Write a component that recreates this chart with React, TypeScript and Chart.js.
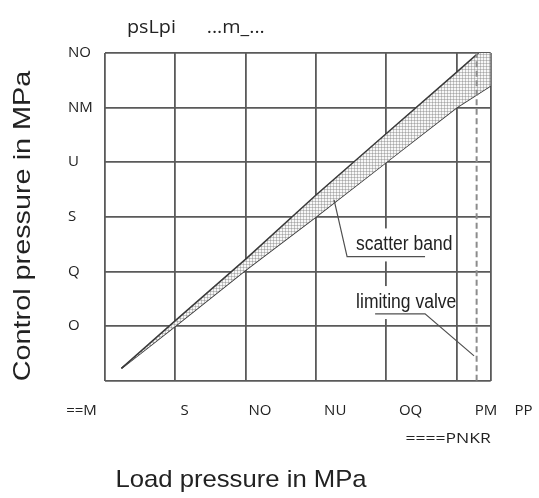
import React, { useEffect, useRef } from 'react';
import { Chart, registerables } from 'chart.js';

Chart.register(...registerables);

// ---- data ----
const yTickValues = [2, 4, 6, 8, 10, 12];
const yTickLabels = ['O', 'Q', 'S', 'U', 'NM', 'NO'];
const xGridValues = [0, 6, 12, 18, 24, 30, 32.9];
const xTickValues = [-2.2, 6, 12, 18, 24, 30, 33];
const xTickLabels = ['==M', 'S', 'NO', 'NU', 'OQ', 'PM', 'PP'];

const upperX = [1.4, 6, 12, 18, 24, 30, 32.9];
const upperY = [0.45, 2.2, 4.45, 6.8, 9.05, 11.3, 12.4];
const lowerX = [1.4, 6, 12, 18, 24, 30, 32.9];
const lowerY = [0.45, 2, 4.05, 6, 8, 10, 10.8];
const limitValveX = 31.7;

const scatterLeaderX = [19.54, 20.65, 27.3];
const scatterLeaderY = [6.62, 4.54, 4.54];
const limitLeaderX = [23.04, 27.3, 31.48];
const limitLeaderY = [2.45, 2.45, 0.91];

const chartTitle = 'psLpi      ...m_...';
const xTitle = 'Load pressure in MPa';
const yTitle = 'Control pressure in MPa';
const annotationLabels = ['scatter band', 'limiting valve'];
const annotationX = [21.42, 21.42];
const annotationY = [4.77, 2.66];
const limitLabel = '====PNKR';
const limitLabelX = 32.9;
const limitLabelY = -2.29;

const TEXT = '#222222';
const GRID = '#5a5a5a';
const LINE = '#3a3a3a';
const ANN_FONT = '20px "Liberation Sans", Arial, sans-serif';
const ANN_SX = 0.875;

function drawStretched(
  ctx: CanvasRenderingContext2D,
  text: string,
  x: number,
  y: number,
  font: string,
  align: CanvasTextAlign,
  sx: number,
  rotate = 0
) {
  ctx.save();
  ctx.font = font;
  ctx.fillStyle = TEXT;
  ctx.textBaseline = 'alphabetic';
  ctx.textAlign = align;
  ctx.translate(x, y);
  if (rotate) ctx.rotate(rotate);
  ctx.scale(sx, 1);
  ctx.fillText(text, 0, 0);
  ctx.restore();
}

const decorPlugin = {
  id: 'decor',
  beforeDatasetsDraw(chart: any) {
    const ctx: CanvasRenderingContext2D = chart.ctx;
    const xs = chart.scales.x;
    const ys = chart.scales.y;
    ctx.save();
    ctx.font = ANN_FONT;
    ctx.fillStyle = '#ffffff';
    annotationLabels.forEach((t, i) => {
      const px = xs.getPixelForValue(annotationX[i]);
      const py = ys.getPixelForValue(annotationY[i]);
      const w = ctx.measureText(t).width * ANN_SX;
      ctx.fillRect(px - 4, py - 22, w + 2, 33);
    });
    ctx.restore();
  },
  afterDraw(chart: any) {
    const ctx: CanvasRenderingContext2D = chart.ctx;
    const xs = chart.scales.x;
    const ys = chart.scales.y;
    const area = chart.chartArea;
    drawStretched(ctx, chartTitle, area.left + 22, area.top - 20, '19px "Open Sans", sans-serif', 'left', 1.04);
    drawStretched(ctx, xTitle, 241, 487, '24px "Liberation Sans", Arial, sans-serif', 'center', 1.07);
    drawStretched(ctx, yTitle, 29.5, 226, '24px "Liberation Sans", Arial, sans-serif', 'center', 1.2, -Math.PI / 2);
    annotationLabels.forEach((t, i) => {
      drawStretched(ctx, t, xs.getPixelForValue(annotationX[i]), ys.getPixelForValue(annotationY[i]), ANN_FONT, 'left', ANN_SX);
    });
    drawStretched(ctx, limitLabel, xs.getPixelForValue(limitLabelX), ys.getPixelForValue(limitLabelY), '14px "Open Sans", sans-serif', 'right', 1.25);
  },
};

function makePattern(ctx: CanvasRenderingContext2D) {
  const c = document.createElement('canvas');
  c.width = 3;
  c.height = 3;
  const g = c.getContext('2d')!;
  g.fillStyle = '#f7f7f7';
  g.fillRect(0, 0, 3, 3);
  g.fillStyle = '#c6c6c6';
  g.fillRect(0, 0, 3, 1);
  g.fillRect(0, 0, 1, 3);
  g.fillStyle = '#a8a8a8';
  g.fillRect(0, 0, 1, 1);
  return ctx.createPattern(c, 'repeat');
}

const pts = (xs: number[], ys: number[]) => xs.map((x, i) => ({ x, y: ys[i] }));

export default function App() {
  const ref = useRef<HTMLCanvasElement | null>(null);

  useEffect(() => {
    const canvas = ref.current!;
    const ctx = canvas.getContext('2d')!;
    const pattern = makePattern(ctx);
    const chart = new Chart(canvas, {
      type: 'line',
      data: {
        datasets: [
          {
            data: pts(upperX, upperY),
            borderColor: LINE,
            borderWidth: 1.5,
            pointRadius: 0,
            tension: 0,
            fill: '+1',
            backgroundColor: pattern as any,
            order: 3,
          },
          {
            data: pts(lowerX, lowerY),
            borderColor: LINE,
            borderWidth: 1.5,
            pointRadius: 0,
            tension: 0,
            fill: false,
            order: 3,
          },
          {
            data: [
              { x: limitValveX, y: 0 },
              { x: limitValveX, y: 12 },
            ],
            borderColor: '#8c8c8c',
            borderWidth: 2,
            borderDash: [6, 3.5],
            pointRadius: 0,
            fill: false,
            order: 2,
          },
          {
            data: pts(scatterLeaderX, scatterLeaderY),
            borderColor: '#505050',
            borderWidth: 1.2,
            pointRadius: 0,
            fill: false,
            order: 1,
          },
          {
            data: pts(limitLeaderX, limitLeaderY),
            borderColor: '#505050',
            borderWidth: 1.2,
            pointRadius: 0,
            fill: false,
            order: 1,
          },
        ],
      },
      options: {
        responsive: false,
        animation: false,
        devicePixelRatio: 1,
        layout: { padding: { left: 68, top: 53, right: 48.3, bottom: 65.8 } },
        plugins: {
          legend: { display: false },
          title: { display: false },
          tooltip: { enabled: false },
        },
        scales: {
          x: {
            type: 'linear',
            position: 'bottom',
            min: 0,
            max: 32.9,
            afterBuildTicks: (s: any) => {
              s.ticks = xGridValues.map((v) => ({ value: v }));
            },
            afterFit: (s: any) => {
              s.height = 21.5;
            },
            ticks: { display: false },
            grid: { color: GRID, lineWidth: 1.8, drawTicks: false },
            border: { display: false },
          },
          xl: {
            type: 'linear',
            position: 'bottom',
            min: -0.33,
            max: 30.38,
            afterBuildTicks: (s: any) => {
              s.ticks = xTickValues.map((v) => ({ value: v }));
            },
            afterFit: (s: any) => {
              s.height = 30;
            },
            grid: { display: false, drawTicks: false },
            border: { display: false },
            ticks: {
              autoSkip: false,
              maxRotation: 0,
              padding: 0,
              color: TEXT,
              font: { family: '"Open Sans", sans-serif', size: 15 },
              callback: (_v: any, i: number) => xTickLabels[i],
            },
          },
          y: {
            type: 'linear',
            min: 0,
            max: 12,
            afterFit: (s: any) => {
              s.width = 37;
            },
            ticks: {
              stepSize: 2,
              crossAlign: 'far',
              color: TEXT,
              font: { family: '"Open Sans", sans-serif', size: 15 },
              callback: (v: any) => {
                const i = yTickValues.indexOf(Number(v));
                return i >= 0 ? yTickLabels[i] : '';
              },
            },
            grid: { color: GRID, lineWidth: 1.8, drawTicks: false },
            border: { display: false },
          },
        } as any,
      },
      plugins: [decorPlugin],
    });
    return () => chart.destroy();
  }, []);

  return (
    <div style={{ position: 'absolute', left: 0, top: 0, width: 539, height: 498, background: '#fff' }}>
      <canvas ref={ref} width={539} height={498} style={{ width: 539, height: 498, display: 'block' }} />
    </div>
  );
}
